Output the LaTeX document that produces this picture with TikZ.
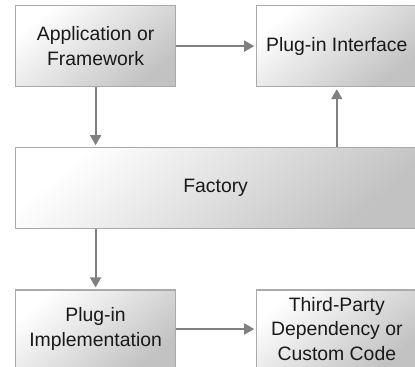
\documentclass[tikz,border=0pt]{standalone}
\usepackage{fontspec}
\setmainfont{Liberation Sans}
\usetikzlibrary{arrows.meta,positioning}
\definecolor{boxline}{RGB}{170,170,170}
\definecolor{arrowgray}{RGB}{128,128,128}
\definecolor{textgray}{RGB}{25,25,25}
\tikzstyle{block}=[draw=boxline, line width=0.6pt, minimum width=80pt, minimum height=40.5pt, align=center, top color=white, middle color=white, bottom color=black!24, shading angle=40, text=textgray, font=\fontsize{9.7}{12.2}\selectfont, inner sep=0pt]
\tikzstyle{arrow}=[draw=arrowgray, line width=0.9pt, -{Triangle[width=5.5pt,length=5pt]}, arrowgray, shorten >=1pt]

\begin{document}
\begin{tikzpicture}
    \useasboundingbox (-7.5pt,2.5pt) rectangle (200pt,-181pt);
    \node (app) [block, anchor=north west] at (0,0) {Application or\\Framework};
    \node (iface) [block, right=40pt of app] {Plug-in Interface};
    \node (factory) [block, minimum width=200pt, below=30pt of app.south west, anchor=north west] {Factory};
    \node (impl) [block, minimum height=39pt, below=30pt of factory.south west, anchor=north west] {Plug-in\\Implementation};
    \node (third) [block, minimum height=39pt, right=40pt of impl] {Third-Party\\Dependency or\\Custom Code};

    \draw[arrow] (app) -- (iface);
    \draw[arrow] (app) -- (app |- factory.north);
    \draw[arrow] (iface |- factory.north) -- (iface);
    \draw[arrow] (factory.south -| impl) -- (impl);
    \draw[arrow] (impl) -- (third);
\end{tikzpicture}
\end{document}
